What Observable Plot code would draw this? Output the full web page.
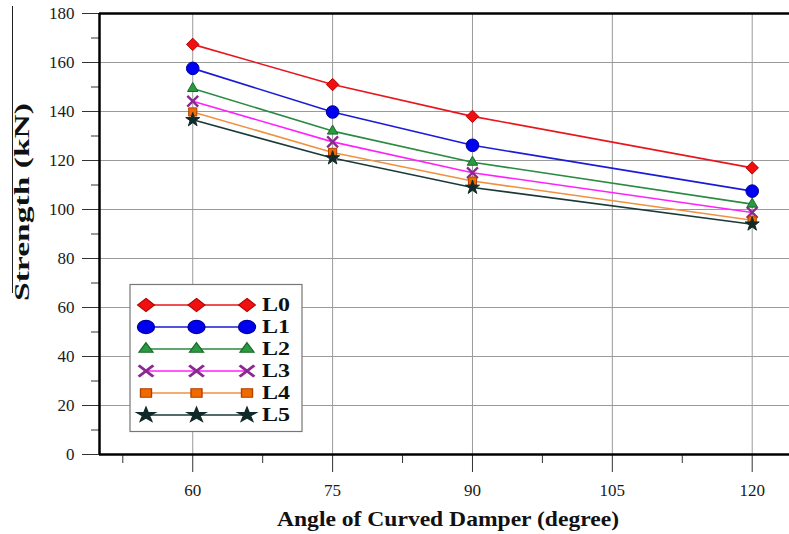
<!DOCTYPE html>
<html>
<head>
<meta charset="utf-8">
<script src="https://cdn.jsdelivr.net/npm/d3@7"></script>
<script src="https://cdn.jsdelivr.net/npm/@observablehq/plot@0.6"></script>
<style>
  html, body { margin: 0; padding: 0; background: #fff; }
  #chart { position: relative; width: 789px; height: 534px; }
</style>
</head>
<body>
<div id="chart"></div>
<script>
// ---- data ----
const angles = [60, 75, 90, 120];
const seriesNames = ["L0", "L1", "L2", "L3", "L4", "L5"];
const L0 = [167.4, 151.0, 138.0, 117.0];
const L1 = [157.6, 139.8, 126.2, 107.5];
const L2 = [149.4, 132.0, 119.3, 102.2];
const L3 = [144.2, 127.6, 115.0, 98.8];
const L4 = [139.8, 123.3, 111.6, 95.6];
const L5 = [136.6, 121.0, 109.0, 94.0];
const xTicks = [60, 75, 90, 105, 120];
const xMinorTicks = [52.5, 67.5, 82.5, 97.5, 112.5];
const yTicks = [0, 20, 40, 60, 80, 100, 120, 140, 160, 180];
const yMinorTicks = [10, 30, 50, 70, 90, 110, 130, 150, 170];

// styles per series
const styles = {
  L0: {line: "#e8161c", fill: "#f01010", stroke: "#b00000", symbol: "diamond2", r: 5.6},
  L1: {line: "#1a1ad8", fill: "#0000f0", stroke: "#0000a0", symbol: "circle", r: 6.3},
  L2: {line: "#2a8a40", fill: "#2a9a40", stroke: "#1a6a2a", symbol: "triangle2", r: 5},
  L3: {line: "#ff20ff", fill: "none", stroke: "#8a2a90", symbol: "times", r: 5},
  L4: {line: "#f09040", fill: "#f06a00", stroke: "#b04000", symbol: "square2", r: 5.2},
  L5: {line: "#1a3a38", fill: "#0f2a28", stroke: "#0f2a28", symbol: "star", r: 4.4}
};

const seriesValues = [L0, L1, L2, L3, L4, L5];
const rows = [];
seriesNames.forEach((s, i) => angles.forEach((a, j) => rows.push({series: s, angle: a, value: seriesValues[i][j]})));

const FONT = "'Liberation Serif', 'Times New Roman', serif";
const marks = [
  Plot.gridY(yTicks.slice(1, -1), {stroke: "#9a9a9a", strokeOpacity: 1, strokeWidth: 1}),
  Plot.gridX(xTicks, {stroke: "#9a9a9a", strokeOpacity: 1, strokeWidth: 1}),
  Plot.axisY(yTicks, {tickSize: 17, tickPadding: 8, fontSize: 17, fill: "#1a1a1a", label: null, stroke: "#333"}),
  Plot.axisY(yMinorTicks, {tickSize: 8, tickFormat: () => "", label: null, stroke: "#333"}),
  Plot.axisX(xTicks, {tickSize: 18, tickPadding: 11, fontSize: 17, fill: "#1a1a1a", label: null, stroke: "#333"}),
  Plot.axisX(xMinorTicks, {tickSize: 9, tickFormat: () => "", label: null, stroke: "#333"}),
  Plot.ruleY([0, 180], {stroke: "#000", strokeWidth: 2.5}),
  Plot.ruleX([50], {stroke: "#000", strokeWidth: 2.5})
];
seriesNames.forEach(s => {
  const st = styles[s];
  const d = rows.filter(r => r.series === s);
  marks.push(Plot.line(d, {x: "angle", y: "value", stroke: st.line, strokeWidth: 1.6}));
});
seriesNames.forEach(s => {
  const st = styles[s];
  const d = rows.filter(r => r.series === s);
  marks.push(Plot.dot(d, {x: "angle", y: "value", symbol: st.symbol, r: st.r,
    fill: st.fill, stroke: st.stroke, strokeWidth: st.symbol === "times" ? 2.4 : 1}));
});

const plot = Plot.plot({
  width: 789,
  height: 534,
  marginLeft: 99,
  marginRight: 0,
  marginTop: 13,
  marginBottom: 80,
  x: {domain: [50, 124]},
  y: {domain: [0, 180]},
  style: {fontFamily: FONT, fontSize: "17px", color: "#1a1a1a", background: "#fff"},
  marks
});

const svg = d3.select(plot);
// force serif on all tick labels
svg.selectAll("text").style("font-family", FONT).style("font-variant", "normal");

// axis titles
svg.append("text")
  .attr("x", 448).attr("y", 526)
  .attr("text-anchor", "middle")
  .style("font-family", FONT)
  .attr("font-weight", "bold")
  .attr("font-size", 22)
  .attr("fill", "#111")
  .attr("textLength", 342).attr("lengthAdjust", "spacingAndGlyphs")
  .text("Angle of Curved Damper (degree)");

svg.append("text")
  .attr("transform", "translate(29,202) rotate(-90)")
  .attr("text-anchor", "middle")
  .style("font-family", FONT)
  .attr("font-weight", "bold")
  .attr("font-size", 22)
  .attr("fill", "#111")
  .attr("textLength", 198).attr("lengthAdjust", "spacingAndGlyphs")
  .text("Strength (kN)");

svg.append("line")
  .attr("x1", 12.5).attr("x2", 12.5).attr("y1", 6).attr("y2", 293)
  .attr("stroke", "#222").attr("stroke-width", 1);

// legend
const lg = svg.append("g");
lg.append("rect").attr("x", 130).attr("y", 284.5).attr("width", 172).attr("height", 147)
  .attr("fill", "#fff").attr("stroke", "#777").attr("stroke-width", 1.2);
const symMap = {diamond2: d3.symbolDiamond2, circle: d3.symbolCircle, triangle2: d3.symbolTriangle2,
  times: d3.symbolTimes, square2: d3.symbolSquare2, star: d3.symbolStar};
seriesNames.forEach((s, i) => {
  const st = styles[s];
  const y = 305 + i * 22;
  lg.append("line").attr("x1", 146).attr("x2", 247).attr("y1", y).attr("y2", y)
    .attr("stroke", st.line).attr("stroke-width", 1.6);
  [146, 196.5, 247].forEach(x => {
    const size = Math.PI * st.r * st.r;
    lg.append("path")
      .attr("d", d3.symbol(symMap[st.symbol], size)())
      .attr("transform", `translate(${x},${y}) scale(1.35,1.05)`)
      .attr("fill", st.fill).attr("stroke", st.stroke)
      .attr("stroke-width", st.symbol === "times" ? 2.4 : 1);
  });
  lg.append("text").attr("x", 262).attr("y", y).attr("dy", "0.36em")
    .attr("text-anchor", "start")
    .style("font-family", FONT).attr("font-weight", "bold")
    .attr("font-size", 18).attr("fill", "#111")
    .attr("textLength", 28).attr("lengthAdjust", "spacingAndGlyphs")
    .text(s);
});

document.getElementById("chart").appendChild(plot);
</script>
</body>
</html>
